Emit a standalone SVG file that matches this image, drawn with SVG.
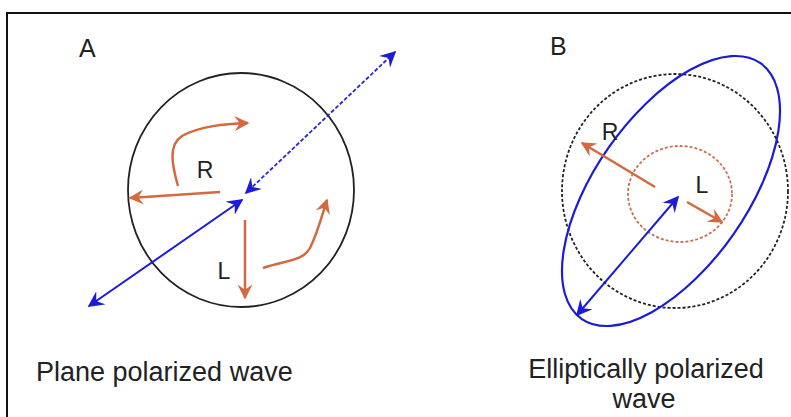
<svg xmlns="http://www.w3.org/2000/svg" width="791" height="417" viewBox="0 0 791 417">
<style>
text{font-family:"Liberation Sans",Arial,sans-serif;fill:#222}
.lbl{font-size:23px}
.big{font-size:25px}
.cap{font-size:27px}
.blue{stroke:#1c1cd6;stroke-width:2;fill:none}
.bdash{stroke:#2a2ad0;stroke-width:1.8;fill:none;stroke-dasharray:4 2}
.orange{stroke:#d4683e;stroke-width:2.5;fill:none}
</style>
<defs>
<marker id="ab" viewBox="0 0 10 10" refX="9" refY="5" markerWidth="16" markerHeight="16" markerUnits="userSpaceOnUse" orient="auto-start-reverse">
<path d="M0,0 L10,5 L0,10 L3.5,5 z" fill="#1c1cd6"/>
</marker>
<marker id="ao" viewBox="0 0 10 10" refX="9" refY="5" markerWidth="15" markerHeight="15" markerUnits="userSpaceOnUse" orient="auto-start-reverse">
<path d="M0,0 L10,5 L0,10 L3.5,5 z" fill="#d4683e"/>
</marker>
</defs>
<rect x="0" y="0" width="791" height="417" fill="#fff"/>
<path d="M7,417 V13 H791" fill="none" stroke="#111" stroke-width="2"/>
<g id="panelA">
<text class="big" x="79" y="57">A</text>
<ellipse cx="241" cy="190" rx="113" ry="117" fill="none" stroke="#222" stroke-width="1.8"/>
<text class="lbl" x="205" y="178" text-anchor="middle">R</text>
<text class="lbl" x="224" y="279" text-anchor="middle">L</text>
</g>
<g id="panelB">
<text class="big" x="550" y="55">B</text>
<ellipse cx="675" cy="191" rx="113" ry="117" fill="none" stroke="#222" stroke-width="1.8" stroke-dasharray="3 2"/>
<ellipse cx="680" cy="194" rx="52" ry="48" fill="none" stroke="#c87050" stroke-width="1.8" stroke-dasharray="3 2"/>
<ellipse cx="671" cy="191" rx="156" ry="76" transform="rotate(-55 671 191)" fill="none" stroke="#1c1cd6" stroke-width="2.2"/>
<text class="lbl" x="610" y="140" text-anchor="middle">R</text>
<text class="lbl" x="702" y="193" text-anchor="middle">L</text>
</g>
<g id="connectors">
<line class="blue" x1="89" y1="306" x2="242" y2="200" marker-start="url(#ab)" marker-end="url(#ab)"/>
<line class="bdash" x1="395" y1="52" x2="246" y2="193" marker-start="url(#ab)" marker-end="url(#ab)"/>
<line class="orange" x1="220" y1="192" x2="130" y2="198" marker-end="url(#ao)"/>
<line class="orange" x1="245" y1="220" x2="245" y2="298" marker-end="url(#ao)"/>
<path class="orange" d="M178,186 C172,165 168,145 182,136 C200,126 225,124 248,123" marker-end="url(#ao)"/>
<path class="orange" d="M263,268 C285,260 302,262 310,248 C318,232 322,215 327,200" marker-end="url(#ao)"/>
<line class="blue" x1="678" y1="197" x2="577" y2="315" marker-start="url(#ab)" marker-end="url(#ab)"/>
<line class="orange" x1="655" y1="187" x2="582" y2="143" marker-end="url(#ao)"/>
<line class="orange" x1="687" y1="202" x2="722" y2="222" marker-end="url(#ao)"/>
</g>
<g id="captions">
<text class="cap" x="36" y="381">Plane polarized wave</text>
<text class="cap" x="646" y="378" text-anchor="middle">Elliptically polarized</text>
<text class="cap" x="644" y="408" text-anchor="middle">wave</text>
</g>
</svg>
